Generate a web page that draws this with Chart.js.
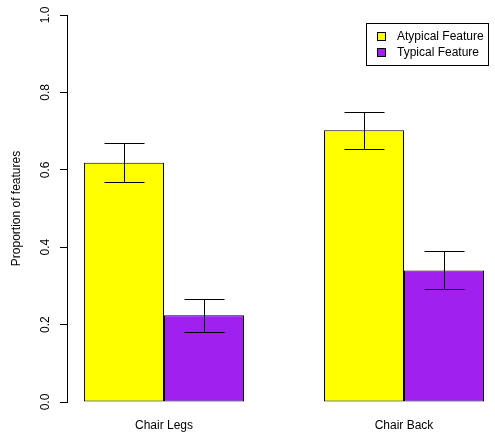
<!DOCTYPE html>
<html>
<head>
<meta charset="utf-8">
<script src="https://cdn.jsdelivr.net/npm/chart.js@4.4.1/dist/chart.umd.min.js"></script>
<style>
  html, body { margin: 0; padding: 0; background: #fff; }
  canvas { display: block; }
</style>
</head>
<body>
<canvas id="chart" width="495" height="434"></canvas>
<script>
const categories = ['Chair Legs', 'Chair Back'];
const categoryPos = [1, 2];
const seriesNames = ['Atypical Feature', 'Typical Feature'];
const seriesColors = ['#FFFF00', '#A020F0'];

const atypical = [0.618, 0.702];
const typical = [0.224, 0.340];
const atypicalLow = [0.568, 0.655];
const atypicalHigh = [0.668, 0.749];
const typicalLow = [0.180, 0.292];
const typicalHigh = [0.267, 0.389];

const yTicks = [0, 0.2, 0.4, 0.6, 0.8, 1.0];

const errLow = [atypicalLow, typicalLow];
const errHigh = [atypicalHigh, typicalHigh];

const font = { family: '"Liberation Sans", Arial, Helvetica, sans-serif', size: 12 };

// error bars drawn from the y scale
const errorBars = {
  id: 'errorBars',
  afterDatasetsDraw(chart) {
    const ctx = chart.ctx;
    const yScale = chart.scales.y;
    ctx.save();
    ctx.strokeStyle = '#000';
    ctx.lineWidth = 1;
    chart.data.datasets.forEach((ds, i) => {
      const meta = chart.getDatasetMeta(i);
      meta.data.forEach((bar, j) => {
        const x = Math.round(bar.x) + 0.5;
        const half = bar.width / 4;
        const yl = Math.round(yScale.getPixelForValue(errLow[i][j])) + 0.5;
        const yh = Math.round(yScale.getPixelForValue(errHigh[i][j])) + 0.5;
        ctx.beginPath();
        ctx.moveTo(x, yl); ctx.lineTo(x, yh);
        ctx.moveTo(x - half, yl); ctx.lineTo(x + half, yl);
        ctx.moveTo(x - half, yh); ctx.lineTo(x + half, yh);
        ctx.stroke();
      });
    });
    ctx.restore();
  }
};

// R-style boxed legend in the top right
const boxLegend = {
  id: 'boxLegend',
  afterDraw(chart) {
    const ctx = chart.ctx;
    const ca = chart.chartArea;
    const left = ca.right - 129, top = ca.top + 8, w = 122, h = 42;
    ctx.save();
    ctx.strokeStyle = '#000';
    ctx.lineWidth = 1;
    ctx.strokeRect(left + 0.5, top + 0.5, w, h);
    ctx.font = '12px ' + font.family;
    ctx.textBaseline = 'middle';
    ctx.fillStyle = '#000';
    chart.data.datasets.forEach((ds, i) => {
      const cy = top + 14 + i * 16;
      ctx.fillStyle = ds.backgroundColor;
      ctx.fillRect(left + 11.5, cy - 4.5, 8, 8);
      ctx.strokeRect(left + 11.5, cy - 4.5, 8, 8);
      ctx.fillStyle = '#000';
      ctx.fillText(ds.label, left + 31, cy);
    });
    ctx.restore();
  }
};

new Chart(document.getElementById('chart'), {
  type: 'bar',
  data: {
    datasets: [
      {
        label: seriesNames[0],
        data: categoryPos.map((x, i) => ({ x, y: atypical[i] })),
        backgroundColor: seriesColors[0],
        borderColor: '#000',
        borderWidth: 1,
        borderSkipped: false
      },
      {
        label: seriesNames[1],
        data: categoryPos.map((x, i) => ({ x, y: typical[i] })),
        backgroundColor: seriesColors[1],
        borderColor: '#000',
        borderWidth: 1,
        borderSkipped: false
      }
    ]
  },
  options: {
    responsive: false,
    animation: false,
    categoryPercentage: 2 / 3,
    barPercentage: 1,
    layout: { padding: { top: 15, right: 0, bottom: 0, left: 0 } },
    plugins: {
      legend: { display: false },
      tooltip: { enabled: false }
    },
    scales: {
      x: {
        type: 'linear',
        min: 0.596,
        max: 2.379,
        offset: false,
        grid: { display: false, drawTicks: false },
        border: { display: false },
        afterBuildTicks: scale => { scale.ticks = categoryPos.map(v => ({ value: v })); },
        afterFit: scale => { scale.height = 32; },
        ticks: {
          color: '#000',
          font,
          padding: 16,
          autoSkip: false,
          maxRotation: 0,
          callback: v => categories[categoryPos.indexOf(v)]
        }
      },
      y: {
        min: 0,
        max: 1,
        afterBuildTicks: scale => { scale.ticks = yTicks.map(v => ({ value: v })); },
        afterFit: scale => { scale.width = 67; },
        grid: { drawOnChartArea: false, drawTicks: true, tickLength: 7, color: '#000' },
        border: { display: true, color: '#000' },
        ticks: {
          color: '#000',
          font,
          padding: 6,
          crossAlign: 'center',
          minRotation: 90,
          maxRotation: 90,
          callback: v => v.toFixed(1)
        },
        title: {
          display: true,
          text: 'Proportion of features',
          color: '#000',
          font,
          padding: { top: 9, bottom: 0 }
        }
      }
    }
  },
  plugins: [errorBars, boxLegend]
});
</script>
</body>
</html>
